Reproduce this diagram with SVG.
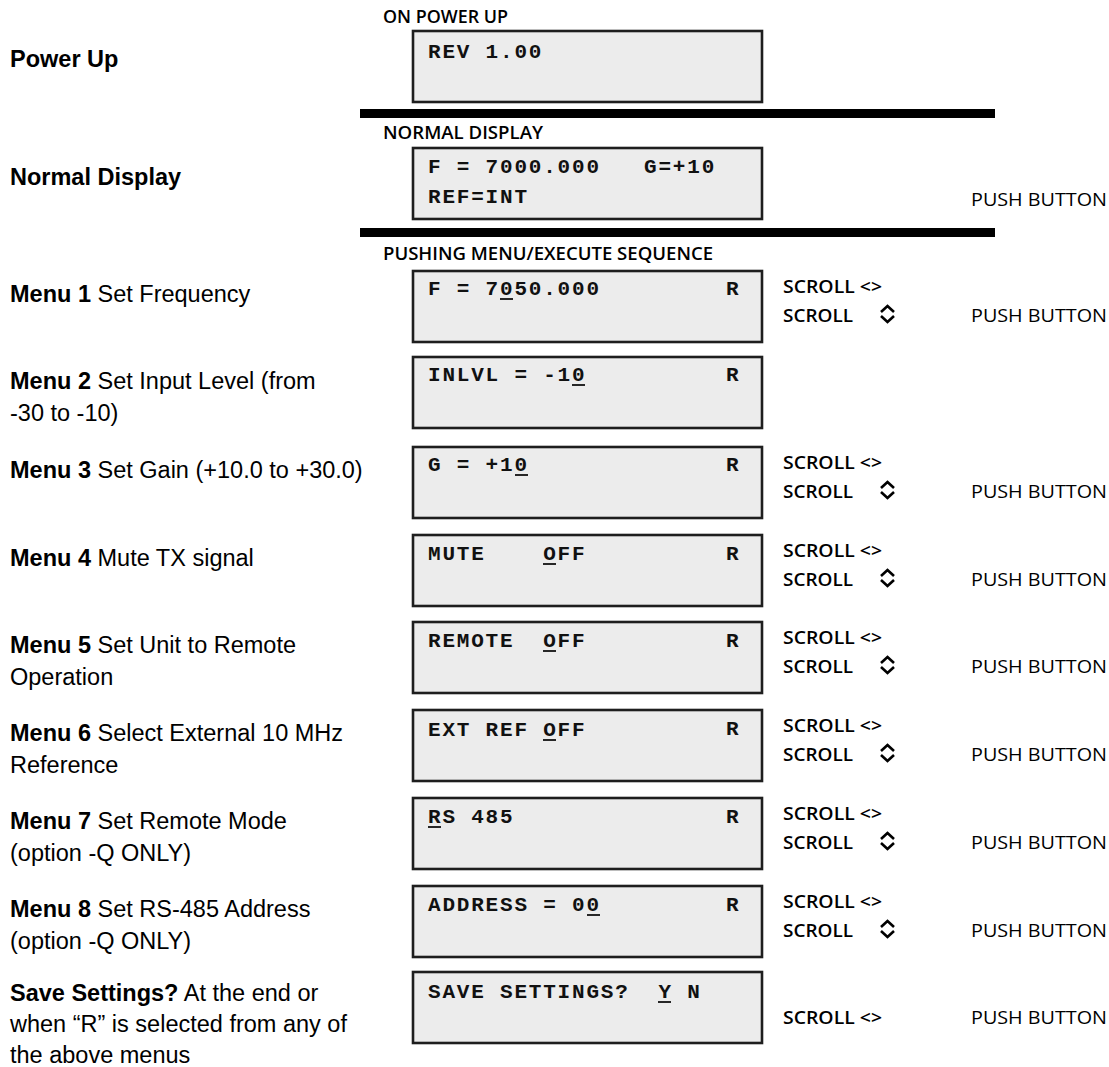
<svg xmlns="http://www.w3.org/2000/svg" width="1109" height="1067" viewBox="0 0 1109 1067">
<style>
.bg{fill:#ffffff}
.box{fill:#ececec;stroke:#1e1e1e;stroke-width:2.6}
.bar{fill:#000}
.mono{font-family:"Liberation Mono","DejaVu Sans Mono",monospace;font-weight:bold;font-size:21px;letter-spacing:1.8px;fill:#111;white-space:pre}
.ul{stroke:#111;stroke-width:1.8}
.cap{font-family:"Open Sans","Noto Sans","Liberation Sans",sans-serif;font-weight:600;font-size:18px;fill:#000}
.pb{font-family:"Open Sans","Noto Sans","Liberation Sans",sans-serif;font-weight:400;font-size:18px;fill:#000}
.lbl{font-family:"Liberation Sans",Arial,sans-serif;font-size:23.5px;fill:#000}
.b{font-weight:bold}
.chev{fill:none;stroke:#000;stroke-width:2.6;stroke-linejoin:miter}
</style>
<rect class="bg" x="0" y="0" width="1109" height="1067"/>

<g id="section-bars">
<rect class="bar" x="360" y="109" width="635" height="9"/>
<rect class="bar" x="360" y="228" width="635" height="9"/>
</g>

<g id="section-titles">
<text class="cap" x="383" y="23" textLength="125" lengthAdjust="spacingAndGlyphs">ON POWER UP</text>
<text class="cap" x="383" y="139" textLength="160" lengthAdjust="spacingAndGlyphs">NORMAL DISPLAY</text>
<text class="cap" x="383" y="260" textLength="330" lengthAdjust="spacingAndGlyphs">PUSHING MENU/EXECUTE SEQUENCE</text>
</g>

<g id="left-labels">
<text class="lbl b" x="10" y="67">Power Up</text>
<text class="lbl b" x="10" y="185">Normal Display</text>
<text class="lbl" x="10" y="302"><tspan class="b">Menu 1</tspan> Set Frequency</text>
<text class="lbl" x="10" y="389"><tspan class="b">Menu 2</tspan> Set Input Level (from</text>
<text class="lbl" x="10" y="421">-30 to -10)</text>
<text class="lbl" x="10" y="478"><tspan class="b">Menu 3</tspan> Set Gain (+10.0 to +30.0)</text>
<text class="lbl" x="10" y="566"><tspan class="b">Menu 4</tspan> Mute TX signal</text>
<text class="lbl" x="10" y="653"><tspan class="b">Menu 5</tspan> Set Unit to Remote</text>
<text class="lbl" x="10" y="685">Operation</text>
<text class="lbl" x="10" y="741"><tspan class="b">Menu 6</tspan> Select External 10 MHz</text>
<text class="lbl" x="10" y="773">Reference</text>
<text class="lbl" x="10" y="829"><tspan class="b">Menu 7</tspan> Set Remote Mode</text>
<text class="lbl" x="10" y="861">(option -Q ONLY)</text>
<text class="lbl" x="10" y="917"><tspan class="b">Menu 8</tspan> Set RS-485 Address</text>
<text class="lbl" x="10" y="949">(option -Q ONLY)</text>
<text class="lbl" x="10" y="1001"><tspan class="b">Save Settings?</tspan> At the end or</text>
<text class="lbl" x="10" y="1032">when “R” is selected from any of</text>
<text class="lbl" x="10" y="1063">the above menus</text>
</g>

<g id="node-powerup">
<rect class="box" x="413" y="31" width="349" height="71"/>
<text class="mono" x="428" y="58">REV 1.00</text>
</g>

<g id="node-normal">
<rect class="box" x="413" y="148" width="349" height="71"/>
<text class="mono" x="428" y="173">F = 7000.000   G=+10</text>
<text class="mono" x="428" y="203">REF=INT</text>
<text class="pb" x="1107" y="206" text-anchor="end" textLength="136" lengthAdjust="spacingAndGlyphs">PUSH BUTTON</text>
</g>

<g id="node-menu1">
<rect class="box" x="413" y="271" width="349" height="71"/>
<text class="mono" x="428" y="295">F = 7050.000</text>
<line class="ul" x1="500" y1="299" x2="513" y2="299"/>
<text class="mono" x="726" y="295">R</text>
<text class="cap" x="783" y="293" textLength="99" lengthAdjust="spacingAndGlyphs">SCROLL &lt;&gt;</text>
<text class="cap" x="783" y="322" textLength="70" lengthAdjust="spacingAndGlyphs">SCROLL</text>
<path class="chev" d="M881,312 L887.5,306 L894,312 M881,316 L887.5,322 L894,316"/>
<text class="pb" x="1107" y="322" text-anchor="end" textLength="136" lengthAdjust="spacingAndGlyphs">PUSH BUTTON</text>
</g>

<g id="node-menu2">
<rect class="box" x="413" y="357" width="349" height="71"/>
<text class="mono" x="428" y="381">INLVL = -10</text>
<line class="ul" x1="572" y1="385" x2="585" y2="385"/>
<text class="mono" x="726" y="381">R</text>
</g>

<g id="node-menu3">
<rect class="box" x="413" y="447" width="349" height="71"/>
<text class="mono" x="428" y="471">G = +10</text>
<line class="ul" x1="515" y1="475" x2="528" y2="475"/>
<text class="mono" x="726" y="471">R</text>
<text class="cap" x="783" y="469" textLength="99" lengthAdjust="spacingAndGlyphs">SCROLL &lt;&gt;</text>
<text class="cap" x="783" y="498" textLength="70" lengthAdjust="spacingAndGlyphs">SCROLL</text>
<path class="chev" d="M881,488 L887.5,482 L894,488 M881,492 L887.5,498 L894,492"/>
<text class="pb" x="1107" y="498" text-anchor="end" textLength="136" lengthAdjust="spacingAndGlyphs">PUSH BUTTON</text>
</g>

<g id="node-menu4">
<rect class="box" x="413" y="535" width="349" height="71"/>
<text class="mono" x="428" y="560">MUTE    OFF</text>
<line class="ul" x1="543" y1="564" x2="556" y2="564"/>
<text class="mono" x="726" y="560">R</text>
<text class="cap" x="783" y="557" textLength="99" lengthAdjust="spacingAndGlyphs">SCROLL &lt;&gt;</text>
<text class="cap" x="783" y="586" textLength="70" lengthAdjust="spacingAndGlyphs">SCROLL</text>
<path class="chev" d="M881,576 L887.5,570 L894,576 M881,580 L887.5,586 L894,580"/>
<text class="pb" x="1107" y="586" text-anchor="end" textLength="136" lengthAdjust="spacingAndGlyphs">PUSH BUTTON</text>
</g>

<g id="node-menu5">
<rect class="box" x="413" y="622" width="349" height="71"/>
<text class="mono" x="428" y="647">REMOTE  OFF</text>
<line class="ul" x1="543" y1="651" x2="556" y2="651"/>
<text class="mono" x="726" y="647">R</text>
<text class="cap" x="783" y="644" textLength="99" lengthAdjust="spacingAndGlyphs">SCROLL &lt;&gt;</text>
<text class="cap" x="783" y="673" textLength="70" lengthAdjust="spacingAndGlyphs">SCROLL</text>
<path class="chev" d="M881,663 L887.5,657 L894,663 M881,667 L887.5,673 L894,667"/>
<text class="pb" x="1107" y="673" text-anchor="end" textLength="136" lengthAdjust="spacingAndGlyphs">PUSH BUTTON</text>
</g>

<g id="node-menu6">
<rect class="box" x="413" y="710" width="349" height="71"/>
<text class="mono" x="428" y="736">EXT REF OFF</text>
<line class="ul" x1="543" y1="740" x2="556" y2="740"/>
<text class="mono" x="726" y="735">R</text>
<text class="cap" x="783" y="732" textLength="99" lengthAdjust="spacingAndGlyphs">SCROLL &lt;&gt;</text>
<text class="cap" x="783" y="761" textLength="70" lengthAdjust="spacingAndGlyphs">SCROLL</text>
<path class="chev" d="M881,751 L887.5,745 L894,751 M881,755 L887.5,761 L894,755"/>
<text class="pb" x="1107" y="761" text-anchor="end" textLength="136" lengthAdjust="spacingAndGlyphs">PUSH BUTTON</text>
</g>

<g id="node-menu7">
<rect class="box" x="413" y="798" width="349" height="71"/>
<text class="mono" x="428" y="823">RS 485</text>
<line class="ul" x1="428" y1="827" x2="441" y2="827"/>
<text class="mono" x="726" y="823">R</text>
<text class="cap" x="783" y="820" textLength="99" lengthAdjust="spacingAndGlyphs">SCROLL &lt;&gt;</text>
<text class="cap" x="783" y="849" textLength="70" lengthAdjust="spacingAndGlyphs">SCROLL</text>
<path class="chev" d="M881,839 L887.5,833 L894,839 M881,843 L887.5,849 L894,843"/>
<text class="pb" x="1107" y="849" text-anchor="end" textLength="136" lengthAdjust="spacingAndGlyphs">PUSH BUTTON</text>
</g>

<g id="node-menu8">
<rect class="box" x="413" y="886" width="349" height="71"/>
<text class="mono" x="428" y="911">ADDRESS = 00</text>
<line class="ul" x1="587" y1="915" x2="600" y2="915"/>
<text class="mono" x="726" y="911">R</text>
<text class="cap" x="783" y="908" textLength="99" lengthAdjust="spacingAndGlyphs">SCROLL &lt;&gt;</text>
<text class="cap" x="783" y="937" textLength="70" lengthAdjust="spacingAndGlyphs">SCROLL</text>
<path class="chev" d="M881,927 L887.5,921 L894,927 M881,931 L887.5,937 L894,931"/>
<text class="pb" x="1107" y="937" text-anchor="end" textLength="136" lengthAdjust="spacingAndGlyphs">PUSH BUTTON</text>
</g>

<g id="node-save">
<rect class="box" x="413" y="972" width="349" height="71"/>
<text class="mono" x="428" y="998">SAVE SETTINGS?  Y N</text>
<line class="ul" x1="658" y1="1002" x2="671" y2="1002"/>
<text class="cap" x="783" y="1024" textLength="99" lengthAdjust="spacingAndGlyphs">SCROLL &lt;&gt;</text>
<text class="pb" x="1107" y="1024" text-anchor="end" textLength="136" lengthAdjust="spacingAndGlyphs">PUSH BUTTON</text>
</g>

<g id="connectors"></g>
</svg>
